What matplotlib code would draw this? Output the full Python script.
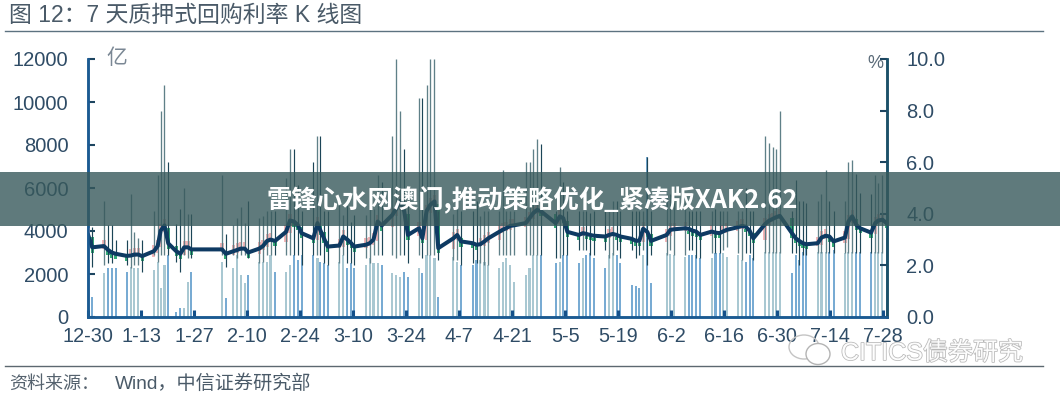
# -*- coding: utf-8 -*-
"""
7 day pledged repo rate, K line chart with volume bars
"""
import numpy as np
import matplotlib
matplotlib.use('Agg')
import matplotlib.pyplot as plt
from matplotlib.patches import Rectangle, Ellipse
import matplotlib.patheffects as pe

plt.rcParams['font.family'] = ['Liberation Sans', 'Noto Sans CJK SC', 'DejaVu Sans']

# x position in calendar days since 12-30
day_pos = [0, 1.1, 4.2, 5.3, 6.25, 7.3, 10.2, 11.3, 12.2, 13.3, 14.3, 17.4, 18.4, 19.2, 20.2, 21.2, 23.3, 24.4, 25.4, 26.4, 27.3,
           35.4, 36.4, 38.4, 39.4, 40.3, 41.4, 42.3, 45.2, 46.2, 47.3, 48.2, 49.4,
           52.3, 53.35, 54.4, 55.4, 56.4, 59.5, 60.6, 61.3, 62.3, 63.3, 66.4, 67.4, 68.5, 69.5, 70.3, 73.4, 74.4, 75.4, 76.5, 77.6,
           80.4, 81.4, 82.5, 83.5, 84.5, 87.4, 88.3, 89.4, 90.4, 91.5, 92.5, 96.5, 97.5, 98.5, 101.6, 102.6, 103.6, 104.7, 105.7,
           108.6, 109.5, 110.4, 111.5, 112.4, 115.6, 116.6, 117.6, 118.6, 119.6, 123.5, 124.6, 125.5, 126.6, 129.6, 130.7, 131.6, 132.6, 133.6,
           136.6, 137.6, 138.6, 139.6, 140.6, 143.6, 144.6, 145.6, 146.6, 147.7, 148.7, 152.8, 153.8, 154.8, 157.7,
           158.6, 159.6, 160.6, 161.7, 164.7, 165.7, 166.8, 167.6, 168.7, 171.6, 172.7, 173.7, 174.7, 175.7, 178.8, 179.9, 180.8, 181.6, 182.7,
           185.9, 186.9, 187.8, 188.8, 189.7, 192.7, 193.7, 194.8, 195.8, 196.9, 199.9, 200.8, 201.8, 202.9, 203.9, 206.8, 207.9, 208.7, 209.8, 210.9]

rate_close = [3.2, 2.7, 2.75, 2.6, 2.5, 2.45, 2.37, 2.38, 2.42, 2.42, 2.36, 2.55, 2.75, 3.35, 3.55, 2.85, 2.55, 2.45, 2.7, 2.7, 2.62,
              2.62, 2.45, 2.55, 2.6, 2.65, 2.65, 2.5, 2.65, 2.75, 2.95, 3.0, 2.95,
              3.3, 3.74, 3.7, 3.57, 3.25, 3.05, 3.64, 3.38, 3.05, 2.73, 2.77, 3.12, 3.0, 2.86, 2.73, 2.8, 2.86, 3.0, 3.7, 3.55,
              3.96, 4.2, 4.5, 4.1, 3.18, 3.44, 3.05, 4.1, 4.35, 4.48, 2.67, 3.05, 3.18, 2.93, 2.86, 2.8, 2.82, 2.93, 3.05,
              3.3, 3.38, 3.44, 3.53, 3.55, 3.64, 3.83, 4.03, 4.15, 4.1, 3.64, 3.9, 3.83, 3.3, 3.18, 3.25, 3.22, 3.18, 3.15,
              3.12, 3.18, 3.22, 3.18, 3.12, 3.03, 2.96, 2.95, 3.42, 3.3, 2.95, 3.18, 3.38, 3.4, 3.44,
              3.42, 3.35, 3.31, 3.18, 3.31, 3.27, 3.25, 3.31, 3.38, 3.48, 3.53, 3.5, 3.35, 3.05, 3.6, 3.74, 3.8, 3.86, 3.92,
              3.25, 3.05, 2.95, 2.86, 2.82, 2.86, 3.08, 3.15, 3.12, 2.93, 3.08, 3.7, 3.9, 3.57, 3.44, 3.27, 3.64, 3.74, 3.77, 3.64]

rate_high = [3.5, 3.5, 4.5, 3.57, 3.57, 3.0, 3.0, 4.76, 3.3, 3.05, 3.0, 4.1, 5.5, 8.0, 9.0, 6.0, 3.6, 4.2, 5.0, 4.0, 4.0,
             5.5, 3.2, 3.57, 3.83, 4.27, 3.66, 4.48, 3.83, 3.92, 4.1, 4.1, 4.1,
             5.4, 6.5, 6.5, 5.1, 4.1, 6.0, 7.0, 7.0, 4.1, 4.1, 4.35, 3.96, 4.35, 3.7, 3.96, 3.96, 4.2, 4.2, 5.5, 5.25,
             7.0, 10, 8, 6.5, 4.6, 8.5, 8.5, 9, 10, 10, 4.1, 4.0, 4.35, 4.1, 4.1, 4.48, 3.9, 4.1, 4.1,
             4.1, 5.7, 4.1, 4.1, 4.1, 6, 6, 6.5, 6.9, 6.7, 4.1, 5.8, 5.25, 4.1, 4.1, 4.1, 4.1, 4.05, 4.1,
             4.1, 4.1, 4.5, 4.5, 4.1, 4.1, 4.1, 4.1, 4.1, 6.2, 4.1, 4.75, 4.75, 4.75, 4.4,
             4.1, 4.1, 4.1, 4.1, 4.1, 4.2, 4.1, 4.1, 4.1, 4.1, 4.1, 5, 4.1, 4.1, 7, 6.75, 6.6, 6.5, 8,
             4.1, 5.3, 4.5, 4.5, 4.4, 4.5, 4.75, 5.7, 4.5, 4.1, 4.5, 6, 6.1, 5.55, 4.8, 4.75, 5.5, 5.2, 5.5, 5.9]

rate_low = [2.5, 1.95, 2.0, 2.1, 2.1, 2.4, 2.0, 1.9, 2.0, 2.0, 1.75, 2.4, 2.15, 2.4, 2.4, 2.4, 2.15, 1.75, 2.4, 2.3, 2.3,
            2.4, 1.95, 2.4, 2.3, 2.4, 2.4, 2.3, 2.1, 2.15, 2.4, 2.4, 2.4,
            2.4, 2.4, 2.4, 2.4, 2.0, 2.4, 2.4, 2.4, 2.1, 2.0, 2.1, 2.4, 2.1, 2.1, 2.0, 2.3, 2.1, 2.4, 2.4, 2.4,
            2.4, 2.3, 2.4, 2.4, 2.1, 2.4, 2.3, 2.4, 2.4, 2.4, 2.2, 2.2, 2.2, 2.0, 2.1, 2.1, 2.1, 2.0, 2.0,
            2.4, 2.4, 2.4, 2.4, 2.4, 2.4, 2.4, 2.4, 2.4, 2.4, 2.3, 2.3, 2.4, 2.4, 2.6, 2.6, 2.6, 2.4, 2.4,
            2.6, 2.3, 2.4, 2.6, 2.3, 2.6, 2.3, 2.4, 2.6, 2.0, 2.4, 2.4, 2.6, 2.4, 2.4,
            2.6, 2.6, 2.3, 2.3, 2.5, 2.5, 2.5, 2.6, 2.7, 2.5, 2.2, 2.5, 2.5, 2.2, 2.5, 2.5, 2.5, 2.5, 2.5,
            2.5, 2.5, 2.0, 2.4, 2.4, 2.5, 2.5, 2.5, 2.5, 2.5, 2.5, 2.5, 2.5, 2.5, 2.5, 2.5, 2.5, 2.5, 2.5, 2.5]

volume = [9860, 945, 2030, 2265, 2265, 2265, 2110, 2340, 2265, 2265, 95, 2185, 2575, 1365, 2420, 2880, 250, 400, 400, 1645, 2110,
          2575, 870, 2265, 2880, 1950, 1565, 1950, 2575, 2575, 2575, 2880, 2110,
          2110, 2420, 2880, 2650, 2880, 2880, 2730, 2575, 2495, 2420, 2575, 2880, 2265, 2495, 2265, 2420, 2730, 2495, 2495, 2420,
          2030, 1955, 1875, 2110, 1875, 2265, 2030, 2880, 2880, 2730, 945, 2805, 2575, 2420, 2420, 2650, 2650, 2575, 2420,
          2265, 2575, 2730, 2420, 1645, 1955, 2265, 2880, 2880, 2880, 2495, 2575, 2880, 2880, 2495, 2730, 2880, 2960, 2730,
          2265, 2880, 2960, 2880, 2495, 1490, 1455, 1335, 2880, 7455, 1565, 2960, 2930, 2880, 2805,
          2880, 2880, 2880, 2730, 2730, 2960, 2960, 2960, 2805, 2880, 2650, 2575, 2880, 2730, 3040, 3040, 3040, 3040, 3040,
          2030, 2880, 2650, 3040, 3190, 3040, 3040, 3040, 3040, 3115, 2960, 3040, 3040, 3040, 3040, 3040, 3040, 3040, 3040, 3660]

date_labels = ['12-30', '1-13', '1-27', '2-10', '2-24', '3-10', '3-24', '4-7', '4-21',
               '5-5', '5-19', '6-2', '6-16', '6-30', '7-14', '7-28']
vol_ticks = [0, 2000, 4000, 6000, 8000, 10000, 12000]
rate_ticks = [0.0, 2.0, 4.0, 6.0, 8.0, 10.0]

W, H = 1060, 400
TXT = '#2f4c66'
GREY = '#55626e'

day_pos = np.array(day_pos)
rate_close = np.array(rate_close)
rate_high = np.array(rate_high)
rate_low = np.array(rate_low)
volume = np.array(volume)

fig = plt.figure(figsize=(W / 100, H / 100), dpi=100, facecolor='white')
ax = fig.add_axes([88 / W, 1 - 317 / H, (887 - 88) / W, (317 - 59) / H])
ax2 = ax.twinx()

# volume bars, colour depends on the day's move
prev_close = np.r_[rate_close[0], rate_close[:-1]]
down = rate_close < prev_close
ax.bar(day_pos[down], volume[down], width=0.55, color='#78abd3', linewidth=0)
ax.bar(day_pos[~down], volume[~down], width=0.55, color='#a9c8d2', linewidth=0)

# wicks
ax2.vlines(day_pos[down], rate_low[down], rate_high[down], color='#1c4557', lw=0.85)
ax2.vlines(day_pos[~down], rate_low[~down], rate_high[~down], color='#5f8088', lw=0.95)

# small candle bodies
body = np.abs(rate_close - prev_close)
bot = np.minimum(rate_close, prev_close)
ax2.bar(day_pos[~down], body[~down] + 0.3, bottom=bot[~down] - 0.05, width=0.85, color='#f3b6b8', linewidth=0)
ax2.bar(day_pos[down], body[down] + 0.1, bottom=bot[down] - 0.2, width=0.85, color='#35ad78', linewidth=0)

ax2.plot(day_pos, rate_close, color='#0e3a62', lw=2.9, solid_joinstyle='round', solid_capstyle='round')

ax.set_xlim(0, 211)
ax.set_ylim(0, 12000)
ax2.set_ylim(0, 10)

ax.set_xticks(np.arange(len(date_labels)) * 14)
ax.set_xticklabels(date_labels)
ax.set_yticks(vol_ticks)
ax2.set_yticks(rate_ticks)
ax2.set_yticklabels(['%.1f' % v for v in rate_ticks])

ax.tick_params(axis='x', direction='in', length=5, width=2.2, color='#14508a', labelsize=14.3, labelcolor=TXT, pad=7)
ax.tick_params(axis='y', direction='in', length=5, width=1.5, color='#1d4560', labelsize=14.5, labelcolor=TXT, pad=14)
ax2.tick_params(axis='y', direction='in', length=5, width=1.5, color='#1d4560', labelsize=14.5, labelcolor=TXT, pad=14)

for a in (ax, ax2):
    a.spines['top'].set_visible(False)
    a.spines['left'].set_color('#1b5a92')
    a.spines['left'].set_linewidth(1.8)
    a.spines['bottom'].set_color('#1b5a92')
    a.spines['bottom'].set_linewidth(1.8)
    a.spines['right'].set_color('#1b5068')
    a.spines['right'].set_linewidth(1.8)

# page furniture, all in pixel positions
def px(x, y):
    return x / W, 1 - y / H

fig.text(*px(9, 15), '图 12：7 天质押式回购利率 K 线图', fontsize=16.5, color='#4a5a68', va='center')
fig.add_artist(plt.Line2D([5 / W, 1043 / W], [1 - 30.5 / H] * 2, color='#5c7280', lw=1.0))
fig.add_artist(plt.Line2D([5 / W, 1043 / W], [1 - 366 / H] * 2, color='#5c6870', lw=1.0))
fig.text(*px(9, 384), '资料来源：', fontsize=13, color=GREY, va='center')
fig.text(*px(115, 384), 'Wind，中信证券研究部', fontsize=13.8, color='#4a5a68', va='center')
fig.text(*px(117, 58), '亿', fontsize=15, color='#7a8794', ha='center', va='center')
fig.text(*px(875, 64), '%', fontsize=13, color='#5a6a78', ha='center', va='center')

# watermark
wm = fig.text(*px(841, 353), 'CITICS债券研究', fontsize=18, color='white', va='center', alpha=0.95)
wm.set_path_effects([pe.withStroke(linewidth=1.1, foreground='#b4b4b4')])
fig.add_artist(Ellipse(px(804, 347), 30 / W, 24 / H, transform=fig.transFigure, fill=False, ec='#c4c4c4', lw=1.0))
fig.add_artist(Ellipse(px(818, 354), 24 / W, 21 / H, transform=fig.transFigure, fc='white', ec='#b4b4b4', lw=1.0))

# banner over the middle of the picture
fig.add_artist(Rectangle((0, 1 - 226 / H), 1, 54 / H, transform=fig.transFigure,
                         fc='#37595b', ec='none', alpha=0.8, zorder=20))
fig.text(*px(532, 200), '雷锋心水网澳门,推动策略优化_紧凑版XAK2.62', fontsize=18.3, color='white',
         fontweight='bold', family=['Noto Sans CJK SC', 'DejaVu Sans'], ha='center', va='center', zorder=21)

fig.savefig('out.png', dpi=100)
